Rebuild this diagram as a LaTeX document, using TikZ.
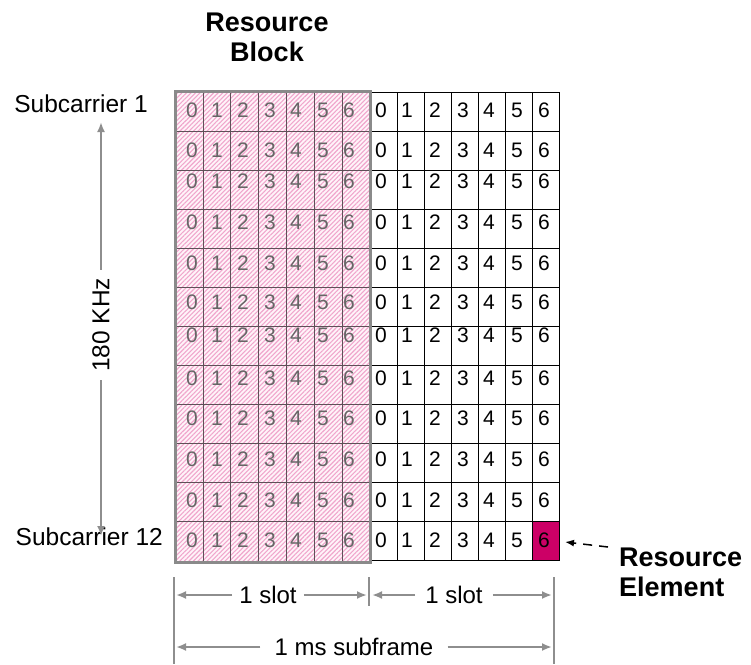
\documentclass[tikz,border=0pt]{standalone}
\usepackage{fontspec}
\setmainfont{Liberation Sans}
\usetikzlibrary{patterns.meta,arrows.meta}
\definecolor{hatchpink}{HTML}{F0A6CC}
\definecolor{cellpink}{HTML}{FFF4F9}
\definecolor{remagenta}{HTML}{CC0066}
\definecolor{dimgray}{HTML}{8E8E8E}
\definecolor{blockgray}{HTML}{8A8A8A}
\definecolor{lgrid}{HTML}{5E5058}
\tikzset{
  digitR/.style={font=\fontsize{21}{21}\selectfont, text=black, inner sep=0pt},
  digitL/.style={font=\fontsize{21}{21}\selectfont, text=black!60, inner sep=0pt},
  sidelabel/.style={font=\fontsize{24.5}{24.5}\selectfont, inner sep=0pt},
  boldlabel/.style={font=\bfseries\fontsize{27}{30}\selectfont, inner sep=0pt},
  dimlabel/.style={font=\fontsize{24}{24}\selectfont, inner ysep=0pt, inner xsep=7pt},
  dimline/.style={draw=dimgray, line width=2pt, -{Latex[length=10pt,width=8pt]}},
  tick/.style={draw=dimgray, line width=2pt},
}
\begin{document}
\begin{tikzpicture}[x=1pt,y=-1pt]
\useasboundingbox (0,0) rectangle (751,664);

% resource block: pink hatched background
\fill[cellpink] (175,91) rectangle (370,562);
\fill[pattern={Lines[angle=45,distance=3.2pt,line width=1.1pt]}, pattern color=hatchpink]
  (175,91) rectangle (370,562);

% resource element highlight
\fill[remagenta] (532,521) rectangle (559,560);

% grid lines of the first slot
\foreach \i in {1,...,6}
  \draw[lgrid, line width=0.7pt] ({175+\i*195/7},92) -- ({175+\i*195/7},561);
\foreach \j in {1,...,11}
  \draw[lgrid, line width=0.7pt] (176,{92+\j*39}) -- (369,{92+\j*39});

% grid lines of the second slot
\foreach \i in {1,...,6}
  \draw[black, line width=1pt] ({370+\i*27},92) -- ({370+\i*27},560);
\foreach \j in {1,...,11}
  \draw[black, line width=1pt] (370,{92+\j*39}) -- (559,{92+\j*39});
\draw[black, line width=1pt] (370,92) rectangle (559,560);

% resource block outline
\draw[blockgray, line width=3pt] (175,91) rectangle (370,562);

% symbol indices in every row
\foreach \ty [count=\r] in {110,150,181,222,263,302,335,378,418,459,500,540} {
  \foreach \xl/\xr [count=\k from 0] in {192/381,217/407,243/435,270/463,296/489,323/517,349/544} {
    \node[digitL] (L-\r-\k) at (\xl,\ty) {\k};
    \node[digitR] (R-\r-\k) at (\xr,\ty) {\k};
  }
}

% titles
\node[boldlabel, align=center] (rb) at (267,37) {Resource\\Block};
\node[boldlabel, align=left, anchor=west] (rel) at (619,572) {Resource\\Element};
\draw[black, line width=1.5pt, dash pattern=on 9pt off 7pt, -{Latex[length=9pt,width=7pt]}]
  (608,547) -- (565,542);

% subcarrier labels and bandwidth arrow
\node[sidelabel, anchor=east] (sc1) at (148,104) {Subcarrier 1};
\node[sidelabel, anchor=east] (sc12) at (163,537) {Subcarrier 12};
\node[sidelabel, rotate=90, inner xsep=8pt] (khz) at (101,325) {180 KHz};
\coordinate (bwTop) at (101,122);
\coordinate (bwBot) at (101,536);
\draw[dimline] (khz.east) -- (bwTop);
\draw[dimline] (khz.west) -- (bwBot);

% time-axis dimension lines
\coordinate (tL) at (174,577);
\coordinate (tM) at (369,577);
\coordinate (tR) at (554,577);
\draw[tick] (tL) -- (174,664);
\draw[tick] (tM) -- (369,606);
\draw[tick] (tR) -- (554,664);

\node[dimlabel] (slotA) at (268,595) {1 slot};
\draw[dimline] (slotA.west) -- (176,595);
\draw[dimline] (slotA.east) -- (367,595);

\node[dimlabel, inner xsep=10pt] (slotB) at (454,595) {1 slot};
\draw[dimline] (slotB.west) -- (372,595);
\draw[dimline] (slotB.east) -- (552,595);

\node[dimlabel, inner xsep=14pt] (sub) at (354,647) {1 ms subframe};
\draw[dimline] (sub.west) -- (176,647);
\draw[dimline] (sub.east) -- (552,647);
\end{tikzpicture}
\end{document}
